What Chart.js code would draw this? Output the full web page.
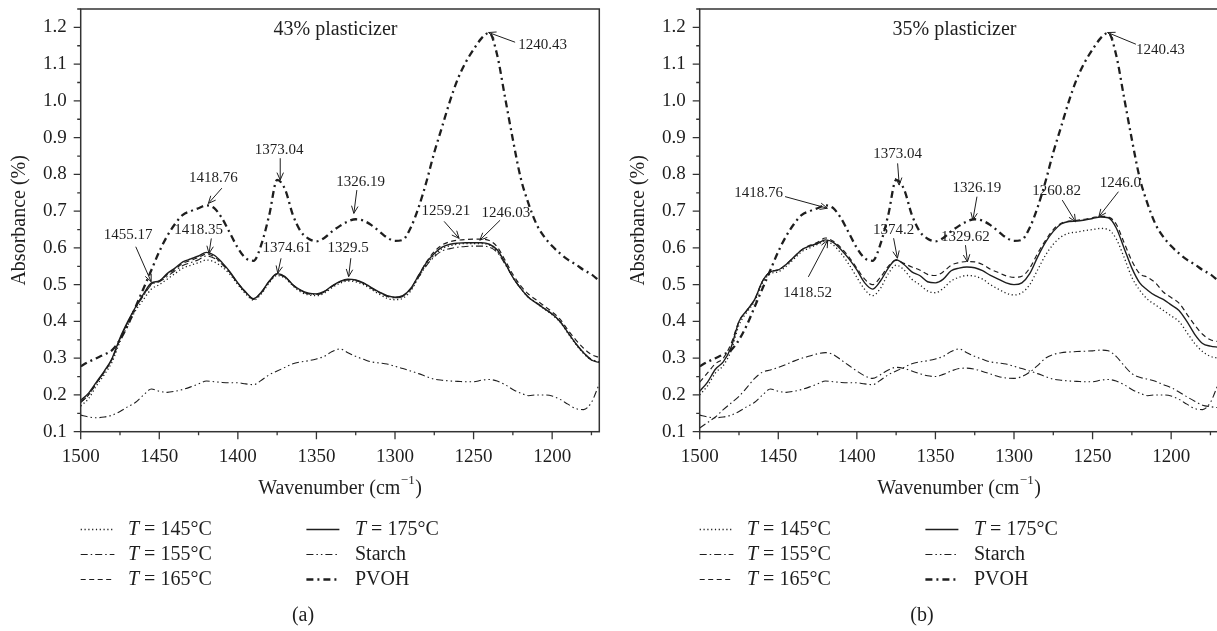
<!DOCTYPE html>
<html>
<head>
<meta charset="utf-8">
<script src="https://cdn.jsdelivr.net/npm/chart.js@4.4.0/dist/chart.umd.min.js"></script>
<style>
  html, body { margin: 0; padding: 0; background: #fff; overflow: hidden; }
  #wrap { position: relative; width: 1217px; height: 631px; overflow: hidden; }
  canvas { position: absolute; top: 0; }
  #panelA { left: 0; }
  #panelB { left: 619px; }
</style>
</head>
<body>
<div id="wrap">
  <canvas id="panelA" width="608" height="631"></canvas>
  <canvas id="panelB" width="608" height="631"></canvas>
</div>
<script>
// wavenumber grid (cm-1), shared by every spectrum
const wavenumbers = [
  1500, 1495, 1490, 1485, 1480, 1475, 1470, 1465, 1460, 1455,
  1450, 1445, 1440, 1435, 1430, 1425, 1420, 1415, 1410, 1405,
  1400, 1395, 1390, 1385, 1380, 1375, 1370, 1365, 1360, 1355,
  1350, 1345, 1340, 1335, 1330, 1325, 1320, 1315, 1310, 1305,
  1300, 1295, 1290, 1285, 1280, 1275, 1270, 1265, 1260, 1255,
  1250, 1245, 1240, 1235, 1230, 1225, 1220, 1215, 1210, 1205,
  1200, 1195, 1190, 1185, 1180, 1175, 1170
];
const xTicks = [1500, 1450, 1400, 1350, 1300, 1250, 1200];
const yTicks = [0.1, 0.2, 0.3, 0.4, 0.5, 0.6, 0.7, 0.8, 0.9, 1.0, 1.1, 1.2];

// reference spectra
const starch = [
  0.145, 0.14, 0.138, 0.14, 0.145, 0.155, 0.168, 0.18, 0.2, 0.216,
  0.21, 0.207, 0.21, 0.215, 0.222, 0.23, 0.238, 0.236, 0.234, 0.233,
  0.233, 0.23, 0.228, 0.24, 0.255, 0.265, 0.275, 0.285, 0.29, 0.293,
  0.298, 0.305, 0.318, 0.325, 0.315, 0.305, 0.297, 0.29, 0.287, 0.284,
  0.278, 0.272, 0.265, 0.258, 0.25, 0.243, 0.24, 0.238, 0.237, 0.236,
  0.236, 0.24, 0.242, 0.238, 0.228, 0.215, 0.205, 0.198, 0.2, 0.2,
  0.197, 0.188, 0.175, 0.163, 0.16, 0.18, 0.23
];
const pvoh = [
  0.278, 0.29, 0.30, 0.31, 0.322, 0.35, 0.39, 0.44, 0.49, 0.54,
  0.59, 0.632, 0.665, 0.69, 0.70, 0.708, 0.716, 0.708, 0.68, 0.64,
  0.60, 0.572, 0.565, 0.61, 0.69, 0.785, 0.76, 0.69, 0.645, 0.625,
  0.618, 0.627, 0.645, 0.66, 0.672, 0.678, 0.674, 0.662, 0.645, 0.628,
  0.619, 0.622, 0.655, 0.71, 0.78, 0.86, 0.93, 1.0, 1.06, 1.105,
  1.14, 1.17, 1.185, 1.125, 1.01, 0.895, 0.79, 0.72, 0.665, 0.63,
  0.605, 0.585, 0.568, 0.555, 0.54, 0.528, 0.51
];

// 43% plasticizer
const a145 = [
  0.17, 0.19, 0.225, 0.255, 0.29, 0.345, 0.39, 0.43, 0.46, 0.488,
  0.50, 0.515, 0.53, 0.545, 0.553, 0.56, 0.567, 0.562, 0.548, 0.528,
  0.50, 0.475, 0.458, 0.475, 0.505, 0.525, 0.518, 0.497, 0.48, 0.472,
  0.47, 0.477, 0.492, 0.504, 0.51, 0.508, 0.5, 0.487, 0.474, 0.463,
  0.459, 0.463, 0.483, 0.52, 0.555, 0.58, 0.598, 0.606, 0.61, 0.612,
  0.612, 0.612, 0.608, 0.592, 0.558, 0.52, 0.49, 0.465, 0.45, 0.434,
  0.418, 0.398, 0.368, 0.338, 0.313, 0.295, 0.29
];
const a155 = [
  0.18, 0.2, 0.232, 0.262, 0.298, 0.352, 0.398, 0.438, 0.47, 0.50,
  0.508, 0.522, 0.538, 0.552, 0.56, 0.568, 0.578, 0.572, 0.555, 0.532,
  0.503, 0.478, 0.46, 0.478, 0.508, 0.528, 0.52, 0.499, 0.483, 0.475,
  0.473, 0.48, 0.495, 0.507, 0.513, 0.511, 0.503, 0.49, 0.478, 0.468,
  0.464, 0.468, 0.487, 0.52, 0.552, 0.576, 0.592, 0.598, 0.602, 0.604,
  0.605, 0.605, 0.602, 0.588, 0.556, 0.52, 0.49, 0.466, 0.451, 0.436,
  0.42, 0.4, 0.37, 0.34, 0.315, 0.297, 0.29
];
const a165 = [
  0.18, 0.2, 0.232, 0.262, 0.298, 0.352, 0.398, 0.438, 0.472, 0.502,
  0.51, 0.527, 0.542, 0.558, 0.566, 0.574, 0.583, 0.576, 0.557, 0.533,
  0.504, 0.479, 0.461, 0.479, 0.509, 0.529, 0.521, 0.499, 0.484, 0.476,
  0.474, 0.481, 0.496, 0.508, 0.514, 0.512, 0.504, 0.491, 0.479, 0.469,
  0.465, 0.469, 0.489, 0.525, 0.562, 0.59, 0.608, 0.617, 0.621, 0.623,
  0.624, 0.624, 0.62, 0.603, 0.567, 0.528, 0.497, 0.474, 0.458, 0.442,
  0.426, 0.406, 0.377, 0.35, 0.327, 0.31, 0.302
];
const a175 = [
  0.185, 0.205, 0.235, 0.265, 0.30, 0.355, 0.40, 0.44, 0.475, 0.505,
  0.51, 0.53, 0.545, 0.562, 0.57, 0.578, 0.588, 0.58, 0.56, 0.535,
  0.505, 0.48, 0.462, 0.48, 0.51, 0.53, 0.522, 0.50, 0.485, 0.477,
  0.475, 0.482, 0.497, 0.509, 0.515, 0.513, 0.505, 0.492, 0.48, 0.47,
  0.466, 0.47, 0.49, 0.525, 0.56, 0.585, 0.602, 0.61, 0.613, 0.614,
  0.614, 0.614, 0.61, 0.595, 0.56, 0.52, 0.49, 0.465, 0.45, 0.435,
  0.42, 0.40, 0.37, 0.34, 0.315, 0.295, 0.288
];

// 35% plasticizer
const b145 = [
  0.20, 0.225, 0.26, 0.28, 0.32, 0.39, 0.425, 0.455, 0.505, 0.53,
  0.535, 0.55, 0.57, 0.59, 0.60, 0.61, 0.618, 0.608, 0.585, 0.555,
  0.52, 0.487, 0.47, 0.49, 0.53, 0.553, 0.54, 0.515, 0.50, 0.483,
  0.478, 0.49, 0.51, 0.52, 0.525, 0.523, 0.515, 0.50, 0.488, 0.477,
  0.472, 0.478, 0.50, 0.54, 0.58, 0.61, 0.63, 0.64, 0.643, 0.647,
  0.65, 0.653, 0.65, 0.625, 0.575, 0.52, 0.485, 0.46, 0.445, 0.43,
  0.415, 0.4, 0.37, 0.34, 0.318, 0.305, 0.30
];
const b155 = [
  0.11, 0.125, 0.14, 0.16, 0.178, 0.196, 0.22, 0.245, 0.262, 0.268,
  0.275, 0.283, 0.292, 0.30, 0.306, 0.312, 0.315, 0.31, 0.295, 0.28,
  0.265, 0.252, 0.245, 0.255, 0.268, 0.275, 0.272, 0.265, 0.258, 0.252,
  0.25, 0.256, 0.265, 0.272, 0.273, 0.27, 0.264, 0.257, 0.25, 0.246,
  0.245, 0.25, 0.262, 0.28, 0.30, 0.31, 0.315, 0.317, 0.318, 0.319,
  0.32, 0.322, 0.32, 0.305, 0.28, 0.258, 0.248, 0.243, 0.237, 0.228,
  0.22, 0.208, 0.195, 0.183, 0.172, 0.168, 0.165
];
const b165 = [
  0.235, 0.26, 0.285, 0.30, 0.34, 0.40, 0.43, 0.46, 0.51, 0.535,
  0.54, 0.555, 0.575, 0.595, 0.607, 0.615, 0.627, 0.618, 0.60, 0.575,
  0.545, 0.515, 0.50, 0.52, 0.55, 0.566, 0.558, 0.548, 0.54, 0.528,
  0.525, 0.535, 0.553, 0.56, 0.563, 0.562, 0.555, 0.542, 0.533, 0.524,
  0.52, 0.523, 0.545, 0.585, 0.62, 0.65, 0.667, 0.673, 0.675, 0.678,
  0.682, 0.686, 0.684, 0.665, 0.615, 0.565, 0.53, 0.52, 0.505, 0.48,
  0.465, 0.45, 0.42, 0.39, 0.365, 0.35, 0.345
];
const b175 = [
  0.21, 0.235, 0.27, 0.29, 0.33, 0.40, 0.43, 0.46, 0.51, 0.535,
  0.54, 0.555, 0.575, 0.595, 0.605, 0.612, 0.622, 0.615, 0.595, 0.57,
  0.54, 0.505, 0.488, 0.51, 0.545, 0.568, 0.555, 0.535, 0.525, 0.508,
  0.505, 0.515, 0.538, 0.545, 0.548, 0.546, 0.538, 0.525, 0.515, 0.505,
  0.50, 0.505, 0.53, 0.575, 0.615, 0.645, 0.665, 0.672, 0.673, 0.676,
  0.68, 0.684, 0.682, 0.655, 0.60, 0.545, 0.505, 0.485, 0.47, 0.46,
  0.445, 0.43, 0.40, 0.365, 0.34, 0.333, 0.33
];

// peak labels and the absorbance at each arrow tip
const peaksA = ['1240.43', '1418.76', '1373.04', '1326.19', '1455.17', '1418.35', '1374.61', '1329.5', '1259.21', '1246.03'];
const peakTipsA = [1.186, 0.721, 0.785, 0.694, 0.508, 0.585, 0.531, 0.522, 0.626, 0.621];
const peaksB = ['1240.43', '1418.76', '1373.04', '1326.19', '1260.82', '1246.0', '1374.2', '1329.62', '1418.52'];
const peakTipsB = [1.186, 0.708, 0.771, 0.676, 0.671, 0.685, 0.572, 0.562, 0.621];

// label placement in px from the arrow tip: [text dx, text dy, tail dx, tail dy]
const placeA = [
  [54, 12.4, 26.5, 9.7], [5, -25, 13.5, -15.3], [-1, -30, 0, -21.7], [6.7, -31.6, 3, -23.3],
  [-23, -47, -15.4, -35], [-10.5, -23.3, 2.3, -15], [9, -25, 3.3, -15], [-0.5, -28.4, 2.2, -18.4],
  [-13.3, -27.6, -15, -17], [26, -27.3, 20.3, -20]
];
const placeB = [
  [52.8, 17.4, 28.3, 11.7], [-68.7, -15, -42.3, -11.6], [-1.6, -30.7, -1.6, -21.7], [4.1, -31.7, 4.1, -23.3],
  [-19, -31, -13.3, -21.7], [21.6, -33.4, 19.6, -25], [-3.8, -28.3, -3.8, -20], [-2, -25, -2, -16.7],
  [-20, 52.7, -19.4, 36.7]
];

const SERIF = '"Liberation Serif", "DejaVu Serif", serif';
const INK = '#1e1e1e';

const styles = {
  t145: { borderDash: [1.2, 2.6], borderWidth: 1.3 },
  t155: { borderDash: [7, 3, 1.5, 3], borderWidth: 1.1 },
  t165: { borderDash: [5, 3.5], borderWidth: 1.2 },
  t175: { borderDash: [], borderWidth: 1.4 },
  starch: { borderDash: [7, 3, 1.5, 3, 1.5, 3], borderWidth: 1.1 },
  pvoh: { borderDash: [7, 4, 2, 4], borderWidth: 2.3 }
};

function series(label, values, style) {
    return Object.assign({
        label: label,
        data: wavenumbers.map((w, i) => ({ x: w, y: values[i] })),
        borderColor: INK,
        fill: false,
        pointRadius: 0,
        cubicInterpolationMode: 'monotone'
    }, style);
}

function drawArrow(ctx, x0, y0, x1, y1) {
    const ang = Math.atan2(y1 - y0, x1 - x0);
    const len = 8, spread = 0.42;
    ctx.beginPath();
    ctx.moveTo(x0, y0);
    ctx.lineTo(x1, y1);
    ctx.moveTo(x1 - len * Math.cos(ang - spread), y1 - len * Math.sin(ang - spread));
    ctx.lineTo(x1, y1);
    ctx.lineTo(x1 - len * Math.cos(ang + spread), y1 - len * Math.sin(ang + spread));
    ctx.stroke();
}

// frame, tick marks, axis titles, peak arrows and the two-column key
const decorations = {
    id: 'decorations',
    afterDraw(chart, args, opts) {
        const ctx = chart.ctx;
        const area = chart.chartArea;
        const xs = chart.scales.x, ys = chart.scales.y;
        ctx.save();

        ctx.strokeStyle = '#333';
        ctx.lineWidth = 1.5;
        ctx.setLineDash([]);
        ctx.strokeRect(area.left, area.top, area.right - area.left, area.bottom - area.top);

        ctx.lineWidth = 1.3;
        ctx.beginPath();
        xTicks.forEach(v => {
            const px = xs.getPixelForValue(v);
            ctx.moveTo(px, area.bottom); ctx.lineTo(px, area.bottom + 7.5);
            const mx = xs.getPixelForValue(v - 25);
            ctx.moveTo(mx, area.bottom); ctx.lineTo(mx, area.bottom + 3.5);
        });
        yTicks.forEach(v => {
            const py = ys.getPixelForValue(v);
            ctx.moveTo(area.left, py); ctx.lineTo(area.left - 7, py);
            const my = ys.getPixelForValue(v + 0.05);
            ctx.moveTo(area.left, my); ctx.lineTo(area.left - 3.5, my);
        });
        ctx.stroke();

        ctx.fillStyle = INK;
        ctx.textBaseline = 'middle';
        ctx.textAlign = 'center';

        // panel title and caption
        ctx.font = '20px ' + SERIF;
        ctx.fillText(opts.title, 335.5, 29.5);
        ctx.fillText(opts.caption, 303, 616);

        // y axis title
        ctx.save();
        ctx.translate(19.5, (area.top + area.bottom) / 2);
        ctx.rotate(-Math.PI / 2);
        ctx.fillText('Absorbance (%)', 0, 0);
        ctx.restore();

        // x axis title with superscript
        const main = 'Wavenumber (cm', sup = '\u22121', tail = ')';
        ctx.font = '20px ' + SERIF;
        const w1 = ctx.measureText(main).width, w3 = ctx.measureText(tail).width;
        ctx.font = '13px ' + SERIF;
        const w2 = ctx.measureText(sup).width;
        let tx = (area.left + area.right) / 2 - (w1 + w2 + w3 + 1) / 2;
        const ty = 489;
        ctx.textAlign = 'left';
        ctx.font = '20px ' + SERIF;
        ctx.fillText(main, tx, ty);
        ctx.font = '13px ' + SERIF;
        ctx.fillText(sup, tx + w1 + 0.5, ty - 8);
        ctx.font = '20px ' + SERIF;
        ctx.fillText(tail, tx + w1 + w2 + 1, ty);

        // peak arrows
        ctx.font = '15px ' + SERIF;
        ctx.textAlign = 'center';
        ctx.lineWidth = 1;
        ctx.strokeStyle = INK;
        opts.peaks.forEach((label, i) => {
            const px = xs.getPixelForValue(parseFloat(label));
            const py = ys.getPixelForValue(opts.tips[i]);
            const p = opts.place[i];
            drawArrow(ctx, px + p[2], py + p[3], px, py);
            ctx.fillText(label, px + p[0], py + p[1]);
        });

        // key: two columns of three entries
        const rows = [529.5, 554.5, 579.5];
        const cols = [[80.7, 114.4, 128], [306.4, 339.4, 355]];
        chart.data.datasets.forEach((ds, i) => {
            const c = cols[Math.floor(i / 3)], y = rows[i % 3];
            ctx.setLineDash(ds.borderDash);
            ctx.lineWidth = ds.borderWidth;
            ctx.beginPath();
            ctx.moveTo(c[0], y); ctx.lineTo(c[1], y);
            ctx.stroke();
            ctx.setLineDash([]);
            ctx.textAlign = 'left';
            let x = c[2];
            let text = ds.label;
            if (text.startsWith('T ')) {
                ctx.font = 'italic 20px ' + SERIF;
                ctx.fillText('T', x, y);
                x += ctx.measureText('T').width;
                text = text.slice(1);
            }
            ctx.font = '20px ' + SERIF;
            ctx.fillText(text, x, y);
        });
        ctx.restore();
    }
};

// keep the axes from reserving room for edge labels
function noEdgePadding(s) {
    s.paddingTop = 0;
    s.paddingBottom = 0;
    s.paddingLeft = 0;
    s.paddingRight = 0;
}

function makePanel(id, title, caption, temps, peaks, tips, place) {
    const ctx = document.getElementById(id).getContext('2d');
    return new Chart(ctx, {
        type: 'line',
        data: {
            datasets: [
                series('T = 145\u00b0C', temps[0], styles.t145),
                series('T = 155\u00b0C', temps[1], styles.t155),
                series('T = 165\u00b0C', temps[2], styles.t165),
                series('T = 175\u00b0C', temps[3], styles.t175),
                series('Starch', starch, styles.starch),
                series('PVOH', pvoh, styles.pvoh)
            ]
        },
        options: {
            responsive: false,
            animation: false,
            devicePixelRatio: 1,
            layout: { padding: { left: 0, right: 8.7, top: 9, bottom: 131.3 } },
            plugins: {
                legend: { display: false },
                tooltip: { enabled: false },
                decorations: { title: title, caption: caption, peaks: peaks, tips: tips, place: place }
            },
            scales: {
                x: {
                    type: 'linear',
                    reverse: true,
                    min: 1170,
                    max: 1500,
                    afterBuildTicks: s => { s.ticks = xTicks.map(v => ({ value: v })); },
                    afterFit: s => { s.height = 68; noEdgePadding(s); },
                    grid: { display: false, drawTicks: false },
                    border: { display: false },
                    ticks: {
                        padding: 14, maxRotation: 0, autoSkip: false, color: INK,
                        font: { family: SERIF, size: 19 },
                        callback: v => String(v)
                    }
                },
                y: {
                    min: 0.1,
                    max: 1.25,
                    afterBuildTicks: s => { s.ticks = yTicks.map(v => ({ value: v })); },
                    afterFit: s => { s.width = 80.7; noEdgePadding(s); },
                    grid: { display: false, drawTicks: false },
                    border: { display: false },
                    ticks: {
                        padding: 14, autoSkip: false, color: INK,
                        font: { family: SERIF, size: 19 },
                        callback: v => v.toFixed(1)
                    }
                }
            }
        },
        plugins: [decorations]
    });
}

document.addEventListener('DOMContentLoaded', function() {
    makePanel('panelA', '43% plasticizer', '(a)', [a145, a155, a165, a175], peaksA, peakTipsA, placeA);
    makePanel('panelB', '35% plasticizer', '(b)', [b145, b155, b165, b175], peaksB, peakTipsB, placeB);
});
</script>
</body>
</html>
